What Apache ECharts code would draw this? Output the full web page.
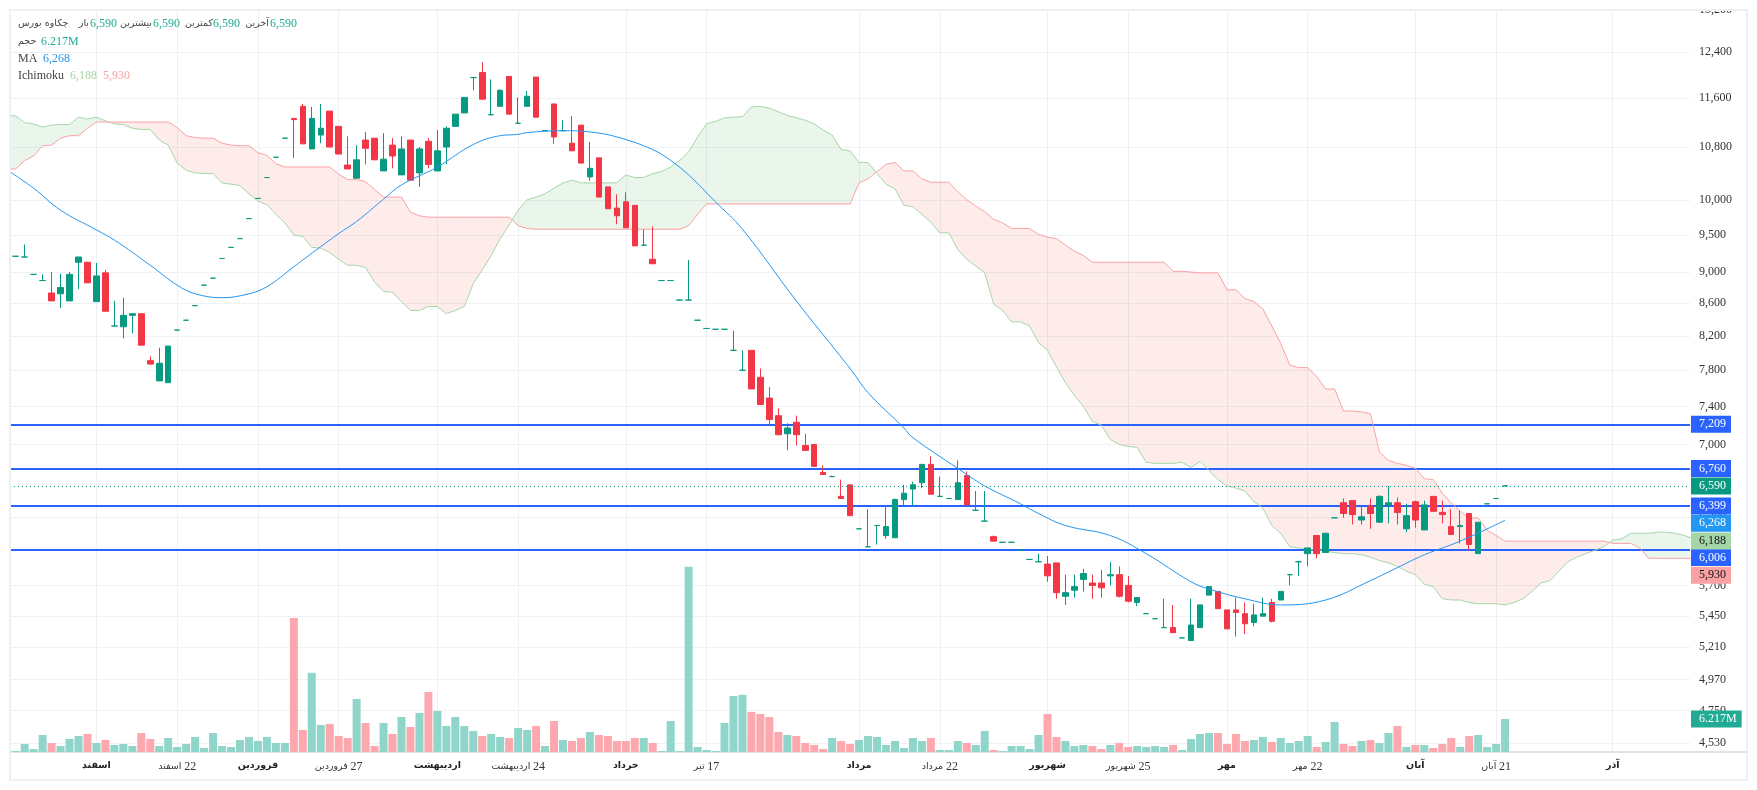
<!DOCTYPE html>
<html>
<head>
<meta charset="utf-8">
<title></title>
<style>
html,body{margin:0;padding:0;background:#fff;}
#chart{width:1757px;height:790px;}
</style>
</head>
<body>
<div id="chart"></div>
<script src="https://cdn.jsdelivr.net/npm/echarts@6/dist/echarts.min.js"></script>
<script>
// open, close, low, high for each day
var ohlc = [
[9210,9210,9210,9210],[9200,9200,9200,9370],[8970,8970,8970,8970],[8890,8890,8890,8970],[8730,8630,8630,9000],
[8720,8800,8540,8980],[8630,8970,8630,9000],[9130,9200,8780,9200],[9130,8860,8860,9130],[8620,8950,8620,9120],
[8990,8500,8500,9030],[8320,8320,8320,8630],[8310,8450,8170,8670],[8450,8470,8230,8480],[8470,8090,8090,8470],
[7910,7870,7870,7960],[7680,7880,7680,8060],[7660,8080,7660,8080],[8270,8270,8270,8270],[8390,8390,8390,8390],
[8570,8570,8570,8570],[8830,8830,8830,8830],[8920,8920,8920,8920],[9180,9180,9180,9180],[9330,9330,9330,9330],
[9450,9450,9450,9450],[9730,9730,9730,9730],[10020,10020,10020,10020],[10330,10330,10330,10330],[10640,10640,10640,10640],
[10940,10940,10940,10940],[11260,11240,10630,11260],[11460,10850,10850,11500],[10770,11260,10770,11450],[10990,11100,10860,11500],
[11380,10800,10800,11380],[11130,10690,10690,11130],[10520,10460,10460,10970],[10320,10600,10320,10830],[10910,10780,10530,11040],
[10940,10600,10600,10940],[10430,10610,10430,11020],[10830,10660,10470,10940],[10370,10770,10370,10970],[10910,10290,10290,10910],
[10400,10770,10190,10800],[10890,10530,10470,10940],[10430,10740,10430,11070],[10800,11100,10530,11130],[11130,11330,11130,11330],
[11350,11610,11350,11610],[11950,11950,11730,11950],[12040,11580,11580,12220],[11320,11320,11320,11920],[11460,11730,11460,11750],
[11970,11330,11330,11970],[11180,11180,11180,11610],[11460,11630,11460,11720],[11960,11280,11280,11960],[11060,11060,11060,11060],
[11500,10960,10850,11500],[11060,11060,11060,11230],[10860,10740,10740,11300],[11150,10550,10550,11150],[10340,10470,10280,10880],
[10630,10040,10040,10630],[10190,9870,9870,10190],[9880,9770,9650,10080],[9970,9600,9600,10110],[9920,9350,9350,9920],
[9360,9360,9360,9580],[9170,9110,9110,9620],[8890,8890,8890,8890],[8890,8890,8890,8890],[8640,8640,8640,8640],
[8640,8640,8640,9160],[8390,8390,8390,8390],[8290,8290,8290,8290],[8280,8280,8280,8280],[8280,8280,8280,8280],
[8030,8030,8030,8260],[7800,7800,7800,8030],[8030,7590,7590,8030],[7720,7420,7420,7820],[7490,7260,7210,7610],
[7300,7100,7100,7380],[7110,7170,6940,7220],[7230,7100,6990,7300],[6990,6940,6940,7110],[7000,6780,6780,7000],
[6720,6700,6700,6790],[6680,6680,6680,6690],[6490,6470,6470,6650],[6600,6310,6310,6600],[6190,6190,6190,6190],
[6030,6030,6030,6370],[6220,6220,6050,6220],[6130,6210,6100,6400],[6110,6460,6110,6470],[6460,6520,6410,6600],
[6560,6600,6400,6630],[6620,6800,6570,6800],[6800,6510,6510,6880],[6490,6490,6490,6680],[6470,6470,6470,6470],
[6460,6620,6460,6840],[6690,6410,6410,6730],[6360,6360,6360,6540],[6260,6260,6260,6540],[6120,6080,6080,6130],
[6070,6070,6070,6070],[6070,6070,6070,6070],[6000,6000,6000,6000],[5920,5920,5920,5920],[5900,5900,5900,5970],
[5880,5780,5730,5950],[5890,5640,5590,5890],[5610,5640,5540,5790],[5660,5690,5600,5790],[5750,5800,5650,5840],
[5720,5700,5590,5790],[5720,5680,5600,5830],[5780,5790,5700,5900],[5790,5610,5600,5860],[5700,5570,5560,5780],
[5560,5600,5530,5600],[5470,5470,5470,5470],[5430,5430,5430,5430],[5360,5360,5360,5590],[5360,5320,5320,5540],
[5280,5280,5280,5280],[5260,5380,5260,5590],[5360,5540,5360,5540],[5620,5690,5620,5690],[5650,5510,5510,5650],
[5500,5350,5350,5500],[5500,5480,5290,5600],[5470,5390,5310,5560],[5400,5460,5370,5550],[5450,5470,5450,5600],
[5560,5410,5400,5590],[5580,5650,5580,5650],[5790,5790,5700,5790],[5900,5900,5780,5900],[5970,6020,5860,6020],
[6130,5970,5930,6130],[5980,6150,5980,6150],[6290,6290,6290,6290],[6430,6330,6290,6470],[6450,6320,6230,6450],
[6270,6300,6230,6390],[6400,6330,6190,6470],[6250,6490,6250,6500],[6410,6430,6240,6590],[6430,6340,6230,6480],
[6190,6310,6160,6420],[6440,6270,6200,6450],[6180,6410,6180,6450],[6490,6350,6350,6490],[6340,6320,6240,6450],
[6210,6140,6140,6370],[6210,6220,6060,6360],[6330,6050,6000,6330],[5970,6250,5970,6250],[6420,6420,6420,6420],
[6470,6470,6470,6470],[6590,6590,6590,6590]
];

// volume in millions
var volumes = [
0.19,1.51,0.57,3.2,1.7,1.13,2.45,3.01,3.39,1.7,2.26,1.32,1.51,1.13,3.58,2.45,1.13,2.64,0.94,1.51,
2.83,0.75,3.58,1.13,0.94,2.26,2.83,2.07,2.83,1.7,1.7,25.2,4.14,14.9,5.09,5.28,3.01,2.64,9.99,5.46,
1.13,5.46,3.39,6.59,4.71,7.35,11.3,7.72,4.9,6.59,4.9,3.96,3.01,3.39,2.83,2.64,4.52,4.14,4.9,1.13,
5.84,2.26,2.07,2.64,3.77,3.2,3.01,2.07,2.07,2.64,2.64,1.7,0.19,5.84,0.19,34.85,0.94,0.38,0.19,5.46,
10.55,10.74,7.54,7.16,6.59,3.77,3.2,3.01,1.7,1.32,0.57,2.64,2.07,1.51,2.26,3.01,2.83,1.32,2.07,0.75,
2.64,2.07,2.64,0.38,0.38,2.07,1.7,1.32,3.96,0.38,0.19,1.13,1.13,0.57,3.2,7.16,2.83,2.07,1.13,1.32,
1.13,0.57,1.32,1.7,0.94,1.13,0.94,1.13,0.94,1.32,0.38,2.45,3.39,3.58,3.58,1.51,3.39,2.07,2.26,2.83,
1.88,2.64,1.7,2.07,3.01,0.94,1.88,5.65,1.51,1.13,2.07,2.26,1.7,3.58,4.9,0.94,1.32,1.32,0.75,1.51,
2.64,0.94,3.01,3.2,0.94,1.51,6.217
];

// moving average, read at these day positions
var maDays = [-1,2,5,9,11,15,18,20,23,26,28,31,32,36,38,41,43,47,51,54,56,57,61,64,67,71,73,75,78,81,87,93,95,99,100,105,108,112,114,117,122,126,131,133,137,141,146,151,154,157,161,166];
var maValues = [10450,10170,9850,9570,9430,9090,8830,8720,8670,8720,8810,9070,9160,9520,9690,10010,10220,10490,10840,10980,11000,11030,11060,11040,10960,10760,10590,10370,9970,9580,8630,7820,7550,7170,7070,6760,6590,6420,6330,6220,6130,5970,5730,5670,5590,5540,5580,5740,5850,5960,6080,6268];

// ichimoku cloud, first value sits one day before the first candle
var senkouA = [
11310,11300,11190,11170,11120,11150,11160,11160,11280,11250,11280,11220,11170,11160,11100,11080,11080,10910,10830,10550,
10440,10400,10390,10390,10250,10230,10210,10090,9980,9930,9790,9670,9500,9480,9330,9320,9260,9170,9090,9090,
9060,8870,8750,8740,8620,8510,8510,8560,8560,8470,8510,8560,8850,9030,9220,9450,9640,9850,10000,10040,
10090,10170,10250,10290,10250,10250,10250,10250,10250,10370,10330,10330,10390,10420,10490,10590,10720,10960,11170,11210,
11270,11280,11290,11450,11460,11430,11370,11310,11270,11230,11170,11070,10990,10760,10740,10560,10560,10390,10230,10160,
9920,9900,9790,9680,9530,9530,9300,9170,9080,8990,8590,8510,8370,8370,8320,8120,8030,7840,7660,7520,
7400,7240,7200,7050,7000,6980,6970,6820,6810,6810,6810,6820,6770,6830,6740,6650,6590,6570,6540,6440,
6380,6220,6150,6030,6020,6010,6000,5990,5980,5970,5970,5960,5940,5910,5890,5860,5820,5790,5710,5690,
5590,5580,5580,5560,5550,5550,5550,5540,5560,5590,5650,5720,5740,5820,5900,5940,5970,6000,6030,6090,
6100,6150,6150,6150,6160,6160,6150,6130,6100
];
var senkouB = [
10460,10460,10590,10660,10820,10830,10940,10980,10980,11100,11200,11200,11200,11200,11200,11200,11200,11200,11200,11110,
10980,10950,10940,10940,10860,10830,10820,10820,10710,10670,10540,10490,10490,10490,10490,10490,10490,10380,10300,10300,
10270,10150,10040,10040,10040,9820,9770,9750,9750,9750,9750,9750,9750,9750,9750,9750,9750,9630,9590,9580,
9580,9580,9580,9580,9580,9580,9580,9580,9580,9580,9580,9580,9580,9580,9580,9580,9630,9790,9940,9940,
9940,9940,9940,9940,9940,9940,9940,9940,9940,9940,9940,9940,9940,9940,9940,10250,10310,10420,10530,10560,
10430,10430,10310,10260,10260,10260,10120,10000,9910,9830,9720,9670,9590,9590,9590,9510,9470,9450,9360,9280,
9220,9130,9130,9130,9130,9130,9130,9130,9130,9130,9010,9010,9000,8990,8990,8990,8770,8770,8660,8620,
8530,8320,8110,7860,7830,7830,7730,7590,7590,7350,7350,7340,7320,6920,6840,6810,6790,6760,6660,6650,
6520,6430,6350,6290,6290,6180,6130,6080,6080,6080,6080,6080,6080,6080,6080,6080,6080,6080,6080,6060,
6060,6060,6020,5930,5930,5930,5930,5930,5930
];

var priceTicks = [13200,12400,11600,10800,10000,9500,9000,8600,8200,7800,7400,7000,6300,5700,5450,5210,4970,4750,4530];
var levels = [7209,6760,6399,6006];
var lastPrice = 6590, lastMa = 6268, lastSpanA = 6188, lastSpanB = 5930, lastVolume = 6.217;

var dateTicks = [9,18,27,36,47,56,68,77,94,103,115,124,135,144,156,165,178];
var dateLabels = ['اسفند','22 اسفند','فروردین','27 فروردین','اردیبهشت','24 اردیبهشت','خرداد','17 تیر','مرداد','22 مرداد','شهریور','25 شهریور','مهر','22 مهر','آبان','21 آبان','آذر'];

var UP = '#089981', DOWN = '#f23645', BLUE = '#2962ff', MA_COLOR = '#2196f3';
var SPAN_A = '#a5d6a7', SPAN_B = '#faa1a4';
var FONT = "'Liberation Serif','DejaVu Sans',serif";
var CLEAR = 'rgba(0,0,0,0)';

function fmt(v){ return Number(v).toLocaleString('en-US'); }

var candleData = ohlc.map(function(d,i){
	var c = d[1] >= d[0] ? UP : DOWN;
	return {value:[i,d[0],d[1],d[2],d[3]], itemStyle:{color:c,color0:c,borderColor:c,borderColor0:c}};
});
var volumeData = volumes.map(function(v,i){
	return {value:[i,v], itemStyle:{color: ohlc[i][1] >= ohlc[i][0] ? '#90d5c9' : '#fca8ae'}};
});
var maData = maDays.map(function(d,i){ return [d,maValues[i]]; });
var spanAData = senkouA.map(function(v,i){ return [i-1,v]; });
var spanBData = senkouB.map(function(v,i){ return [i-1,v]; });

// split the cloud where the two spans cross, one polygon per colour
function cloudRegions(){
	var out = [], cur = null;
	function open(up){ cur = {up:up,a:[],b:[]}; out.push(cur); }
	for(var i=0;i<senkouA.length;i++){
		var up = senkouA[i] >= senkouB[i];
		if(!cur) open(up);
		if(up !== cur.up){
			var d0 = senkouA[i-1]-senkouB[i-1], d1 = senkouA[i]-senkouB[i];
			var t = d0/(d0-d1), x = i-2+t, y = senkouA[i-1]+(senkouA[i]-senkouA[i-1])*t;
			cur.a.push([x,y]); cur.b.push([x,y]);
			open(up);
			cur.a.push([x,y]); cur.b.push([x,y]);
		}
		cur.a.push([i-1,senkouA[i]]);
		cur.b.push([i-1,senkouB[i]]);
	}
	return out;
}
var regions = cloudRegions();

function tag(value,color,textColor,dy){
	return {
		yAxis:value,
		lineStyle:{color:CLEAR},
		label:{show:true,position:'end',distance:1,formatter:fmt(value),offset:[0,dy],backgroundColor:color,color:textColor,
			fontFamily:FONT,fontSize:12,padding:[3,5,2,8],lineHeight:12}
	};
}

function legendText(text,x,y,color){
	return {type:'text',z:60,style:{text:text,x:x,y:y,fill:color,font:'12px '+FONT,textVerticalAlign:'middle'}};
}
// persian words sit right against the number after them
function legendWord(text,x,y){
	return {type:'text',z:60,style:{text:text,x:x,y:y,fill:'#444',font:"9.5px 'DejaVu Sans'",textAlign:'right',textVerticalAlign:'middle'}};
}

var chart = echarts.init(document.getElementById('chart'));
chart.setOption({
	animation:false,
	backgroundColor:'#fff',
	grid:{left:10,right:67,top:9,bottom:38},
	xAxis:{
		type:'value',
		min:-0.635,
		max:186.61,
		axisLine:{show:true,onZero:false,lineStyle:{color:'#e0e3eb',width:2}},
		axisTick:{show:false,customValues:dateTicks},
		splitLine:{show:true,lineStyle:{color:'#eff0f3',width:1}},
		axisLabel:{
			customValues:dateTicks,
			margin:9,
			fontFamily:FONT,fontSize:11,color:'#333',
			formatter:function(v){
				var s = dateLabels[dateTicks.indexOf(v)] || '';
				var m = s.match(/^(\d+) (.+)$/);
				// month name on the left, day number on the right
				return m ? '{t|'+m[2]+'} {n|'+m[1]+'}' : '{m|'+s+'}';
			},
			rich:{
				m:{fontWeight:'bold',fontFamily:"'DejaVu Sans'",fontSize:9.5,color:'#222'},
				t:{fontFamily:"'DejaVu Sans'",fontSize:9.5,color:'#333'},
				n:{fontFamily:FONT,fontSize:12,color:'#333'}
			}
		}
	},
	yAxis:[{
		type:'log',
		logBase:10,
		position:'right',
		min:4471,
		max:13207,
		axisLine:{show:false},
		axisTick:{show:false,customValues:priceTicks},
		splitLine:{show:true,lineStyle:{color:'#f0f1f3',width:1}},
		axisLabel:{customValues:priceTicks,margin:9,fontFamily:FONT,fontSize:12,color:'#333',formatter:function(v){return fmt(v);}}
	},{
		type:'value',
		min:0,
		max:139.8,
		show:false,
		splitLine:{show:false}
	}],
	series:[{
		name:'volume',
		type:'bar',
		yAxisIndex:1,
		z:1,
		barWidth:8,
		data:volumeData,
		markLine:{
			silent:true,symbol:'none',z:10,animation:false,
			data:[{
				yAxis:lastVolume,
				lineStyle:{color:CLEAR},
				label:{show:true,position:'end',distance:1,formatter:lastVolume+'M',backgroundColor:'#22ab94',color:'#fff',
					fontFamily:FONT,fontSize:12,padding:[3,5,2,8],lineHeight:12}
			}]
		}
	},{
		name:'cloud',
		type:'custom',
		z:1,
		clip:true,
		data:regions.map(function(r){ return r.a[0]; }),
		renderItem:function(params,api){
			var r = regions[params.dataIndex];
			var pts = r.a.concat(r.b.slice().reverse()).map(function(p){ return api.coord(p); });
			return {type:'polygon',shape:{points:pts},style:{fill:r.up?'rgba(67,160,71,0.11)':'rgba(244,67,54,0.1)'}};
		}
	},{
		name:'spanA',
		type:'line',
		z:2,
		showSymbol:false,
		data:spanAData,
		lineStyle:{color:SPAN_A,width:1}
	},{
		name:'spanB',
		type:'line',
		z:2,
		showSymbol:false,
		data:spanBData,
		lineStyle:{color:SPAN_B,width:1},
		markLine:{
			silent:true,symbol:'none',z:2,animation:false,
			data:levels.map(function(v,i){
				var t = tag(v,BLUE,'#fff',[0,0,0,8][i]);
				t.lineStyle = {color:BLUE,width:2,type:'solid'};
				return t;
			})
		}
	},{
		name:'candles',
		type:'candlestick',
		z:3,
		barWidth:6,
		data:candleData,
		itemStyle:{borderWidth:1}
	},{
		name:'MA',
		type:'line',
		z:4,
		showSymbol:false,
		smooth:0.4,
		data:maData,
		lineStyle:{color:MA_COLOR,width:1},
		markLine:{
			silent:true,symbol:'none',z:10,animation:false,
			data:[
				(function(){
					var t = tag(lastPrice,UP,'#fff',0);
					t.lineStyle = {color:UP,width:1,type:[1,3]};
					return t;
				})(),
				tag(lastMa,MA_COLOR,'#fff',3),
				tag(lastSpanA,SPAN_A,'#111',12),
				tag(lastSpanB,SPAN_B,'#111',17)
			]
		}
	}],
	graphic:[
		{type:'rect',z:50,silent:true,shape:{x:0,y:0,width:1757,height:10},style:{fill:'#fff'}},
		{type:'rect',z:51,silent:true,shape:{x:10,y:10,width:1737,height:770},style:{fill:'none',stroke:'#eef0f6',lineWidth:2}},
		{type:'line',z:51,silent:true,shape:{x1:1690,y1:752,x2:1747,y2:752},style:{stroke:'#e0e3eb',lineWidth:2}},
		{type:'text',z:60,style:{text:'چکاوه بورس',x:18,y:24,fill:'#444',font:"9.5px 'DejaVu Sans'",textVerticalAlign:'middle'}},
		legendWord('باز',89,24),legendText(fmt(lastPrice),90,24,'#22ab94'),
		legendWord('بیشترین',152,24),legendText(fmt(lastPrice),153,24,'#22ab94'),
		legendWord('کمترین',213,24),legendText(fmt(lastPrice),213,24,'#22ab94'),
		legendWord('آخرین',269,24),legendText(fmt(lastPrice),270,24,'#22ab94'),
		{type:'text',z:60,style:{text:'حجم',x:18,y:42,fill:'#444',font:"9.5px 'DejaVu Sans'",textVerticalAlign:'middle'}},
		legendText(lastVolume+'M',41,42,'#22ab94'),
		legendText('MA',18,59,'#444'),legendText(fmt(lastMa),43,59,MA_COLOR),
		legendText('Ichimoku',18,76,'#444'),legendText(fmt(lastSpanA),70,76,SPAN_A),legendText(fmt(lastSpanB),103,76,SPAN_B)
	]
});
</script>
</body>
</html>
